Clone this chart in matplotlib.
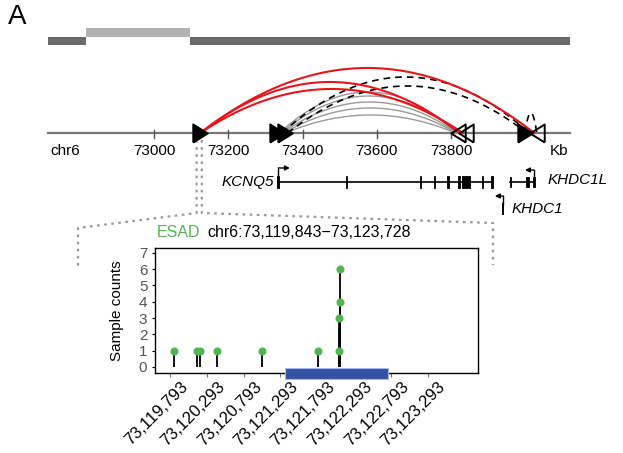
import numpy as np
import matplotlib.pyplot as plt

plt.rcParams['font.family'] = ['Liberation Sans', 'DejaVu Sans']

# chromatin state blocks (kb)
state_start = [72715, 72817, 73097]
state_end = [72817, 73097, 74120]
state_color = ['#6b6b6b', '#b3b3b3', '#6b6b6b']

# anchors (kb) and orientation
anchor_kb = [73125, 73331, 73353, 73819, 73840, 73999, 74031]
anchor_dir = ['>', '>', '>', '<', '<', '>', '<']
anchor_fill = [1, 1, 1, 0, 0, 1, 0]

# loops: start kb, end kb, arc height, kind
loop_start = [73125, 73125, 73125, 73345, 73360, 73999,
              73338, 73342, 73346, 73350, 73355]
loop_end = [74024, 73822, 73832, 74010, 74004, 74031,
            73815, 73818, 73816, 73814, 73812]
loop_height = [65, 51, 44, 56, 47, 20, 41, 37, 31, 25, 18]
loop_kind = ['red', 'red', 'red', 'dash', 'dash', 'dash',
             'gray', 'gray', 'gray', 'gray', 'gray']

chr_ticks = [73000, 73200, 73400, 73600, 73800]

# genes (kb)
kcnq5_span = (73334, 73910)
kcnq5_exons = [(73332, 5), (73518, 3), (73717, 3), (73755, 3), (73790, 4),
               (73820, 4), (73830, 21), (73884, 3), (73907, 5)]
khdc1l_span = (73959, 74023)
khdc1l_exons = [(73958, 3), (74003, 3), (74008, 3), (74021, 4)]
khdc1_exon = (73938, 4)

# ESAD region
region = (73119.843, 73123.728)
snv_pos = [73119847, 73120160, 73120201, 73120432, 73121043, 73121804,
           73122089, 73122096, 73122100, 73122103]
snv_count = [1, 1, 1, 1, 1, 1, 1, 3, 4, 6]
esad_bar = (73121355, 73122755)
bp_ticks = [73119793 + 500 * k for k in range(8)]

W, H = 623, 453
fig = plt.figure(figsize=(W / 100, H / 100), dpi=100)

# top track: x in kb, y in pixels
scale = 0.3713
x0 = 73000 - 154 / scale
ax = fig.add_axes([0, 0, 1, 1])
ax.set_xlim(x0, x0 + W / scale)
ax.set_ylim(H, 0)
ax.axis('off')


def px2kb(px):
    return x0 + px / scale


fig.text(8 / W, 1 - 17 / H, 'A', fontsize=20, va='center', ha='left')

# state bars
for s, e, c in zip(state_start, state_end, state_color):
    if c == '#b3b3b3':
        ax.fill_between([s, e], 28, 36.5, color=c, lw=0)
    else:
        ax.fill_between([s, e], 37, 45, color=c, lw=0)

# chromosome axis
ay = 133
ax.plot([state_start[0], state_end[-1]], [ay, ay], color='#777777', lw=1.6, zorder=1)
for t in chr_ticks:
    ax.plot([t, t], [ay - 3, ay + 5], color='#555555', lw=1, zorder=1)
    ax.text(t, 151, str(t), ha='center', va='center', fontsize=11)
ax.text(px2kb(50), 151, 'chr6', ha='left', va='center', fontsize=11)
ax.text(px2kb(550), 151, 'Kb', ha='left', va='center', fontsize=11)

# loops
styles = {'red': dict(color='#e8141b', lw=1.5, zorder=4),
          'gray': dict(color='#9a9a9a', lw=1.0, zorder=2),
          'dash': dict(color='black', lw=1.2, ls=(0, (4, 3)), zorder=3)}
t = np.linspace(0, 1, 80)
for s, e, h, k in zip(loop_start, loop_end, loop_height, loop_kind):
    ax.plot(s + (e - s) * t, ay - h * 4 * t * (1 - t), **styles[k])

# anchor triangles
tri_r = [(-0.8, -1), (0.8, 0), (-0.8, 1), (-0.8, -1)]
tri_l = [(0.8, -1), (-0.8, 0), (0.8, 1), (0.8, -1)]
for x, d, f in zip(anchor_kb, anchor_dir, anchor_fill):
    m = tri_r if d == '>' else tri_l
    ax.plot(x, ay, marker=m, ms=13, mfc='black' if f else 'none',
            mec='black', mew=1.4, ls='none', zorder=6)

# genes
gy = 182
ax.plot(kcnq5_span, [gy, gy], color='black', lw=1.2)
ax.broken_barh(kcnq5_exons, (gy - 6, 12), facecolor='black', edgecolor='black', lw=0.6)
ax.plot([kcnq5_span[0] + 1, kcnq5_span[0] + 1], [gy, 168], color='black', lw=1)
ax.annotate('', xy=(kcnq5_span[0] + 32, 168), xytext=(kcnq5_span[0] + 1, 168),
            arrowprops=dict(arrowstyle='-|>', color='black', lw=1, mutation_scale=7,
                            shrinkA=0, shrinkB=0))
ax.text(px2kb(274), gy, 'KCNQ5', ha='right', va='center', fontsize=11, style='italic')

ax.plot(khdc1l_span, [gy, gy], color='black', lw=1.2)
ax.broken_barh(khdc1l_exons, (gy - 5, 10), facecolor='black', edgecolor='black', lw=0.6)
ax.plot([khdc1l_span[1], khdc1l_span[1]], [gy, 170], color='black', lw=1)
ax.annotate('', xy=(khdc1l_span[1] - 24, 170), xytext=(khdc1l_span[1], 170),
            arrowprops=dict(arrowstyle='-|>', color='black', lw=1, mutation_scale=7,
                            shrinkA=0, shrinkB=0))
ax.text(px2kb(548), 180, 'KHDC1L', ha='left', va='center', fontsize=11, style='italic')

ax.broken_barh([khdc1_exon], (203, 12), facecolor='black')
kx = khdc1_exon[0] + 2
ax.plot([kx, kx], [204, 196], color='black', lw=1)
ax.annotate('', xy=(kx - 22, 196), xytext=(kx, 196),
            arrowprops=dict(arrowstyle='-|>', color='black', lw=1, mutation_scale=7,
                            shrinkA=0, shrinkB=0))
ax.text(px2kb(512), 209, 'KHDC1', ha='left', va='center', fontsize=11, style='italic')

# zoom connectors
dot = dict(color='#999999', lw=1.6, ls=(0, (1.2, 2)), zorder=1)
lx, rx = region[0] - 5, region[1] + 5
ax.plot([lx, lx, px2kb(78), px2kb(78)], [140, 213, 228, 270], **dot)
ax.plot([rx, rx, px2kb(493), px2kb(493)], [140, 213, 223, 265], **dot)

# ESAD inset
ax2 = fig.add_axes([155 / W, 1 - 373 / H, 323 / W, 125 / H])
ax2.set_xlim(73119589, 73123978)
ax2.set_ylim(-0.37, 7.3)
ax2.vlines(snv_pos, 0, snv_count, color='black', lw=1.3, zorder=3)
ax2.plot(snv_pos, snv_count, 'o', color='#52b552', ms=4.8, zorder=4)
bar = ax2.broken_barh([(esad_bar[0], esad_bar[1] - esad_bar[0])], (-0.74, 0.68),
                      facecolor='#3451a3', edgecolor='#a8b8e8', lw=0.8, zorder=5)
bar.set_clip_on(False)
ax2.set_yticks(range(8))
ax2.tick_params(axis='y', labelsize=11, labelcolor='#555555', length=2.5, width=0.8, pad=3)
ax2.set_xticks(bp_ticks)
ax2.set_xticklabels([])
ax2.tick_params(axis='x', length=3, width=0.8, color='#777777')
for v in bp_ticks:
    ax2.annotate(f'{v:,}', xy=(v, 0), xycoords=('data', 'axes fraction'),
                 xytext=(10, -6), textcoords='offset pixels', rotation=45,
                 ha='right', va='top', rotation_mode='anchor', fontsize=12)
for sp in ax2.spines.values():
    sp.set_linewidth(1)
ax2.set_ylabel('Sample counts', fontsize=11, labelpad=11)

fig.text(157 / W, 1 - 233 / H, 'ESAD', color='#52b552', fontsize=11.5, va='center')
fig.text(207 / W, 1 - 233 / H, 'chr6:73,119,843\u221273,123,728', color='black',
         fontsize=11.5, va='center')

fig.savefig('out.png', dpi=100)
